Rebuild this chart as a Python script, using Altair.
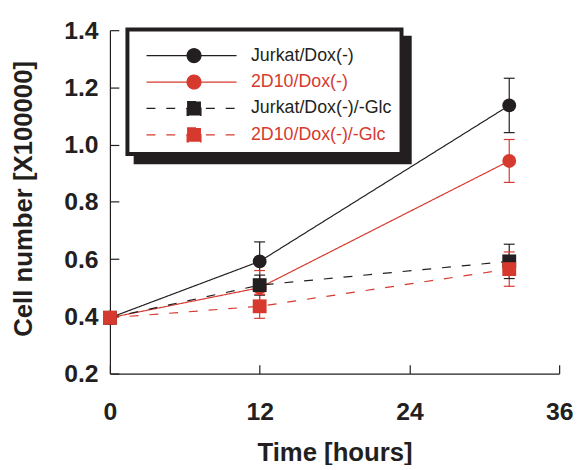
import json
import altair as alt
import pandas as pd

# ---- data ----
series = ["Jurkat/Dox(-)", "2D10/Dox(-)", "Jurkat/Dox(-)/-Glc", "2D10/Dox(-)/-Glc"]
colors = ["#231f20", "#d63a2f", "#231f20", "#d63a2f"]
markers = ["circle", "circle", "square", "square"]
dashes = [[1, 0], [1, 0], [9, 11], [9, 11]]

hours = [0, 12, 32]
jurkat = [0.395, 0.592, 1.137]
jurkat_err = [0.01, 0.068, 0.095]
d2d10 = [0.395, 0.500, 0.943]
d2d10_err = [0.01, 0.060, 0.075]
jurkat_glc = [0.395, 0.509, 0.592]
jurkat_glc_err = [0.01, 0.035, 0.060]
d2d10_glc = [0.395, 0.435, 0.565]
d2d10_glc_err = [0.01, 0.042, 0.060]

x_ticks = [0, 12, 24, 36]
y_ticks = [0.2, 0.4, 0.6, 0.8, 1.0, 1.2, 1.4]

values = [jurkat, d2d10, jurkat_glc, d2d10_glc]
errors = [jurkat_err, d2d10_err, jurkat_glc_err, d2d10_glc_err]

rows = []
caps = []
for s, vals, errs in zip(series, values, errors):
    for h, v, e in zip(hours, vals, errs):
        rows.append({"series": s, "series_b": s, "hours": h, "cells": v, "lo": v - e, "hi": v + e})
        caps.append({"series": s, "hours": h, "cap": v - e})
        caps.append({"series": s, "hours": h, "cap": v + e})
df = pd.DataFrame(rows)
caps_df = pd.DataFrame(caps)

INK = "#231f20"
FONT = "Liberation Sans"

# scales without a legend use a reversed domain order (so Vega-Lite does not
# merge them with the visible legend); the shadow legend uses a rotated order
rev_series = series[::-1]
rev_colors = colors[::-1]
rev_markers = markers[::-1]
rev_dashes = dashes[::-1]
rot_series = series[1:] + series[:1]

# ---- legend symbol: line through marker ----
line_path = "M-6.857,0H6.143"
circle_path = "M1,0A1,1 0 1,1 -1,0A1,1 0 1,1 1,0Z"
square_path = "M-1,-1H1V1H-1Z"
square_series = json.dumps([s for s, m in zip(series, markers) if m == "square"])
dashed_series = json.dumps([s for s, d in zip(series, dashes) if d != [1, 0]])
sym_expr = (f"indexof({square_series}, datum.value) >= 0 ? "
            f"'{line_path}{square_path}' : '{line_path}{circle_path}'")
dash_expr = f"indexof({dashed_series}, datum.value) >= 0 ? [9,11] : [1,0]"
# shadow box: a black bar as wide as the legend content (invisible on black)
shadow_path = "M-6.857,0H28.14" + square_path

common_legend = dict(
    orient="none", title=" ", titleFontSize=1, titlePadding=6.5,
    direction="vertical", padding=10, rowPadding=6.7,
    labelFont=FONT, labelFontSize=18, labelOffset=48.5, labelLimit=400,
    symbolOffset=48.3, symbolSize=196, symbolStrokeWidth=1.2,
)

legend_main = alt.Legend(
    legendX=17.7, legendY=-0.8, fillColor="white", strokeColor=INK,
    labelColor=alt.ExprRef("scale('color', datum.value)"),
    symbolType=alt.ExprRef(sym_expr), symbolDash=alt.ExprRef(dash_expr),
    symbolStrokeColor=alt.ExprRef("scale('color', datum.value)"),
    symbolOpacity=1, zindex=2, **common_legend,
)
legend_shadow = alt.Legend(
    legendX=26, legendY=7.5, fillColor=INK, strokeColor=INK,
    labelColor=INK, labelExpr="' '",
    symbolType=shadow_path, symbolStrokeColor=INK, symbolFillColor=INK,
    zindex=1, **common_legend,
)

xscale = alt.Scale(domain=[0, 36], nice=False, zero=False)
yscale = alt.Scale(domain=[0.2, 1.4], nice=False, zero=False)

x_main = alt.Axis(
    orient="bottom", values=x_ticks, ticks=False, tickSize=0, grid=False,
    domain=True, domainColor=INK, domainWidth=1.2,
    labelFont=FONT, labelFontSize=25, labelFontWeight="bold", labelColor=INK,
    labelPadding=46, labelBaseline="alphabetic", labelFlush=False,
    title="Time [hours]", titleFont=FONT, titleFontSize=26, titleFontWeight="bold",
    titleColor=INK, titleY=88, titleBaseline="alphabetic",
)
y_main = alt.Axis(
    orient="left", values=y_ticks, format=".1f", ticks=False, tickSize=0, grid=False,
    domain=False,
    labelFont=FONT, labelFontSize=25, labelFontWeight="bold", labelColor=INK,
    labelPadding=12, labelFlush=False,
    title="Cell number [X100000]", titleFont=FONT, titleFontSize=26,
    titleFontWeight="bold", titleColor=INK, titleX=-79, titleY=170,
    titleBaseline="alphabetic",
)
x_ticks_axis = alt.Axis(
    orient="top", offset=-347, values=x_ticks, labels=False, domain=False,
    ticks=True, tickSize=9, tickColor=INK, tickWidth=1.2, grid=False, title=None,
)
y_ticks_axis = alt.Axis(
    orient="right", offset=-454, values=y_ticks, labels=False, domain=True,
    domainColor=INK, domainWidth=1.2,
    ticks=True, tickSize=9, tickColor=INK, tickWidth=1.2, grid=False, title=None,
)

stroke_enc = alt.Stroke("series:N", scale=alt.Scale(domain=rev_series, range=rev_colors), legend=None)

lines = alt.Chart(df).mark_line(strokeWidth=1.2).encode(
    x=alt.X("hours:Q", scale=xscale, axis=x_main),
    y=alt.Y("cells:Q", scale=yscale, axis=y_main),
    stroke=stroke_enc,
    strokeDash=alt.StrokeDash("series:N", scale=alt.Scale(domain=rev_series, range=rev_dashes),
                              legend=None),
    order="hours:Q",
)

err_rules = alt.Chart(df).mark_rule(strokeWidth=1.2).encode(
    x=alt.X("hours:Q", scale=xscale, axis=x_ticks_axis),
    y=alt.Y("lo:Q", scale=yscale, axis=y_ticks_axis),
    y2="hi:Q",
    stroke=stroke_enc,
)

err_caps = alt.Chart(caps_df).mark_point(shape="stroke", size=121, filled=False,
                                          strokeWidth=1.2, opacity=1).encode(
    x=alt.X("hours:Q", scale=xscale, axis=None),
    y=alt.Y("cap:Q", scale=yscale, axis=None),
    stroke=stroke_enc,
)

points = alt.Chart(df).mark_point(filled=True, size=196).encode(
    x=alt.X("hours:Q", scale=xscale, axis=None),
    y=alt.Y("cells:Q", scale=yscale, axis=None),
    color=alt.Color("series:N", scale=alt.Scale(domain=series, range=colors), legend=legend_main),
    shape=alt.Shape("series:N", scale=alt.Scale(domain=rev_series, range=rev_markers), legend=None),
    opacity=alt.Opacity("series_b:O", scale=alt.Scale(domain=rot_series, range=[1, 1, 1, 1]),
                        legend=legend_shadow),
)

chart = alt.layer(lines, err_rules, err_caps, points).resolve_axis(
    x="independent", y="independent"
).properties(
    width=454, height=347,
    padding={"left": 103, "top": 20, "right": 14, "bottom": 90},
    autosize=alt.AutoSizeParams(type="none"),
    background="white",
).configure_view(stroke=None).configure_legend(strokeWidth=4)

chart.save("out.html", embed_options={"renderer": "svg", "actions": False})
